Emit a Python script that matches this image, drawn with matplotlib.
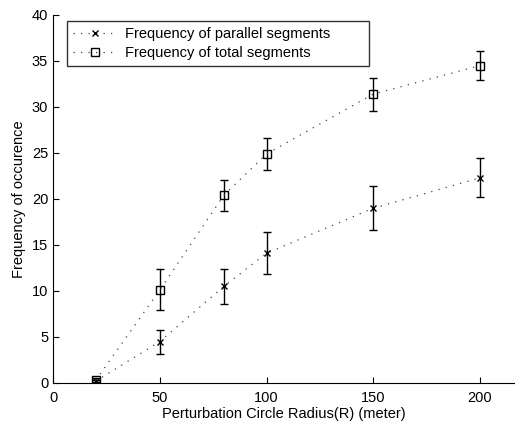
import matplotlib
matplotlib.use("Agg")
import matplotlib.pyplot as plt

radius = [20, 50, 80, 100, 150, 200]
parallel = [0.2, 4.5, 10.5, 14.1, 19.0, 22.3]
parallel_lo = [0.1, 3.1, 8.6, 11.8, 16.6, 20.2]
parallel_hi = [0.3, 5.8, 12.4, 16.4, 21.4, 24.5]
total = [0.3, 10.1, 20.4, 24.9, 31.4, 34.5]
total_lo = [0.1, 7.9, 18.7, 23.2, 29.6, 32.9]
total_hi = [0.5, 12.4, 22.1, 26.6, 33.2, 36.1]

xticks = [0, 50, 100, 150, 200]
yticks = [0, 5, 10, 15, 20, 25, 30, 35, 40]

plt.rcParams['font.family'] = ['Liberation Sans', 'DejaVu Sans']
plt.rcParams['font.size'] = 9.5

fig = plt.figure(figsize=(5.15, 4.24), dpi=100)
ax = fig.add_axes([53/515, 41/424, 1 - 53/515, (383 - 15)/424])

def err(v, lo, hi):
    return [[a - b for a, b in zip(v, lo)], [b - a for a, b in zip(v, hi)]]

ax.errorbar(radius, parallel, yerr=err(parallel, parallel_lo, parallel_hi),
            fmt='none', ecolor='black', elinewidth=1.0, capsize=3, capthick=1.0)
ax.errorbar(radius, total, yerr=err(total, total_lo, total_hi),
            fmt='none', ecolor='black', elinewidth=1.0, capsize=3, capthick=1.0)
ls = (0, (1, 5))
ax.plot(radius, parallel, color='#444444', linestyle=ls, linewidth=0.9,
        marker='x', markersize=5, markeredgewidth=1.0, markeredgecolor='black',
        label='Frequency of parallel segments')
ax.plot(radius, total, color='#444444', linestyle=ls, linewidth=0.9,
        marker='s', markersize=6, markerfacecolor='none', markeredgewidth=1.0,
        markeredgecolor='black', label='Frequency of total segments')

ax.set_xlim(0, (515 - 53) / 2.135)
ax.set_ylim(0, 40)
ax.set_xticks(xticks)
ax.set_yticks(yticks)
ax.tick_params(direction='in', length=4, width=0.8, labelsize=10.5)
ax.tick_params(axis='x', pad=6)
ax.spines['top'].set_visible(False)
ax.spines['right'].set_visible(False)
for s in ('left', 'bottom'):
    ax.spines[s].set_linewidth(0.8)

ax.set_xlabel('Perturbation Circle Radius(R) (meter)', fontsize=10.5, labelpad=1)
ax.set_ylabel('Frequency of occurence', fontsize=10.5, labelpad=4)

leg = ax.legend(loc='upper left',
                bbox_to_anchor=(14/462, 1 - 51/368, (369 - 67)/462, 45/368),
                mode='expand',
                frameon=True, fancybox=False, edgecolor='black',
                borderaxespad=0, handlelength=3, fontsize=10.5,
                borderpad=0.4, labelspacing=0.35, handletextpad=0.6)
leg.get_frame().set_linewidth(1.0)

fig.savefig('out.png', dpi=100)
